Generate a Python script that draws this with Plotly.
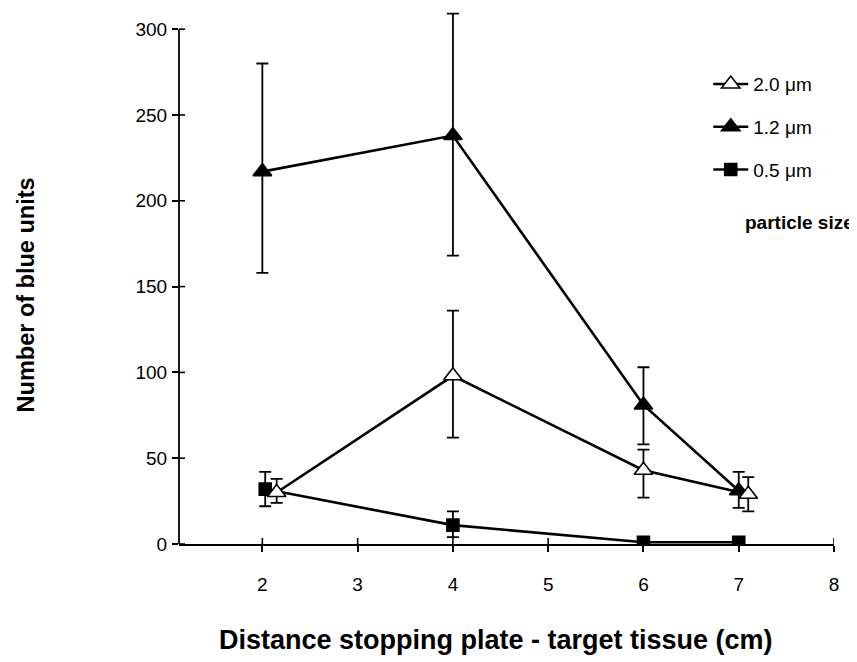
import plotly.graph_objects as go

# Data
x_20 = [2.15, 4, 6, 7.1]
y_20 = [30, 98, 43, 29]
up_20 = [8, 38, 12, 10]
dn_20 = [6, 36, 16, 10]

x_12 = [2, 4, 6, 7]
y_12 = [217, 238, 81, 31]
up_12 = [63, 71, 22, 11]
dn_12 = [59, 70, 23, 10]

x_05 = [2.03, 4, 6, 7]
y_05 = [32, 11, 1, 1]
up_05 = [10, 8, 0, 0]
dn_05 = [10, 7, 0, 0]

labels = ["2.0 \u03bcm", "1.2 \u03bcm", "0.5 \u03bcm"]
x_ticks = [2, 3, 4, 5, 6, 7, 8]
y_ticks = [0, 50, 100, 150, 200, 250, 300]

FONT = "Liberation Sans, Arial, Helvetica, sans-serif"

fig = go.Figure()

def add(xs, ys, up, dn, name, symbol, fill, msize, rank):
    fig.add_trace(go.Scatter(
        x=xs, y=ys, name=name, mode="lines+markers", legendgroup=name,
        legendrank=rank,
        line=dict(color="black", width=2.6),
        marker=dict(symbol=symbol, size=msize, color=fill,
                    line=dict(color="black", width=1.6)),
        error_y=dict(type="data", symmetric=False, array=up, arrayminus=dn,
                     color="black", thickness=1.8, width=6),
    ))

add(x_05, y_05, up_05, dn_05, labels[2], "square", "black", 12, 3)
add(x_12, y_12, up_12, dn_12, labels[1], "triangle-up", "black", 16, 2)
add(x_20, y_20, up_20, dn_20, labels[0], "triangle-up", "white", 16, 1)

xr = [1.125, 8.0]
yr = [0, 310]
y_axis_top = 300

W, H = 857, 662
M = dict(l=171, r=31, t=4, b=126)
pw = W - M["l"] - M["r"]
ph = H - M["t"] - M["b"]
TL = 6  # inner half of the crossing ticks, px

line_style = dict(color="black", width=1.6)
shapes = [dict(type="line", xref="paper", yref="y", x0=0, x1=0, y0=0,
               y1=y_axis_top, line=dict(color="black", width=1.8), layer="above")]
shapes += [dict(type="line", xref="paper", yref="y", x0=0, x1=TL / pw, y0=v, y1=v,
                line=line_style, layer="above") for v in y_ticks]
shapes += [dict(type="line", xref="x", yref="paper", x0=v, x1=v, y0=0, y1=TL / ph,
                line=line_style, layer="above") for v in x_ticks]

fig.update_layout(
    width=W, height=H,
    margin=M,
    paper_bgcolor="white", plot_bgcolor="white",
    font=dict(family=FONT, color="black", size=19),
    showlegend=True,
    legend=dict(traceorder="grouped", x=0.808, y=0.900, xanchor="left",
                yanchor="top", font=dict(size=19), tracegroupgap=15,
                bgcolor="rgba(0,0,0,0)", itemwidth=35),
    xaxis=dict(range=xr, tickvals=x_ticks, ticks="outside", ticklen=6, tickwidth=1.6,
               tickcolor="black", showline=True, linecolor="black", linewidth=1.6,
               showgrid=False, zeroline=False, ticklabelstandoff=16,
               tickfont=dict(size=19)),
    yaxis=dict(range=yr, tickvals=y_ticks, ticks="outside", ticklen=6, tickwidth=1.6,
               tickcolor="black", showline=False,
               showgrid=False, zeroline=False, ticklabelstandoff=1,
               tickfont=dict(size=19)),
    shapes=shapes,
    annotations=[
        dict(text="<b>particle size</b>", xref="paper", yref="paper",
             x=0.861, y=0.605, xanchor="left", yanchor="middle",
             showarrow=False, font=dict(size=19)),
        dict(text="<b>Distance stopping plate - target tissue (cm)</b>",
             xref="paper", yref="paper", x=0.484, y=-0.180, xanchor="center",
             yanchor="middle", showarrow=False, font=dict(size=27)),
        dict(text="<b>Number of blue units</b>", textangle=-90,
             xref="paper", yref="paper", x=-0.233, y=0.468, xanchor="center",
             yanchor="middle", showarrow=False, font=dict(size=23.5)),
    ],
)

fig.write_html("out.html")
